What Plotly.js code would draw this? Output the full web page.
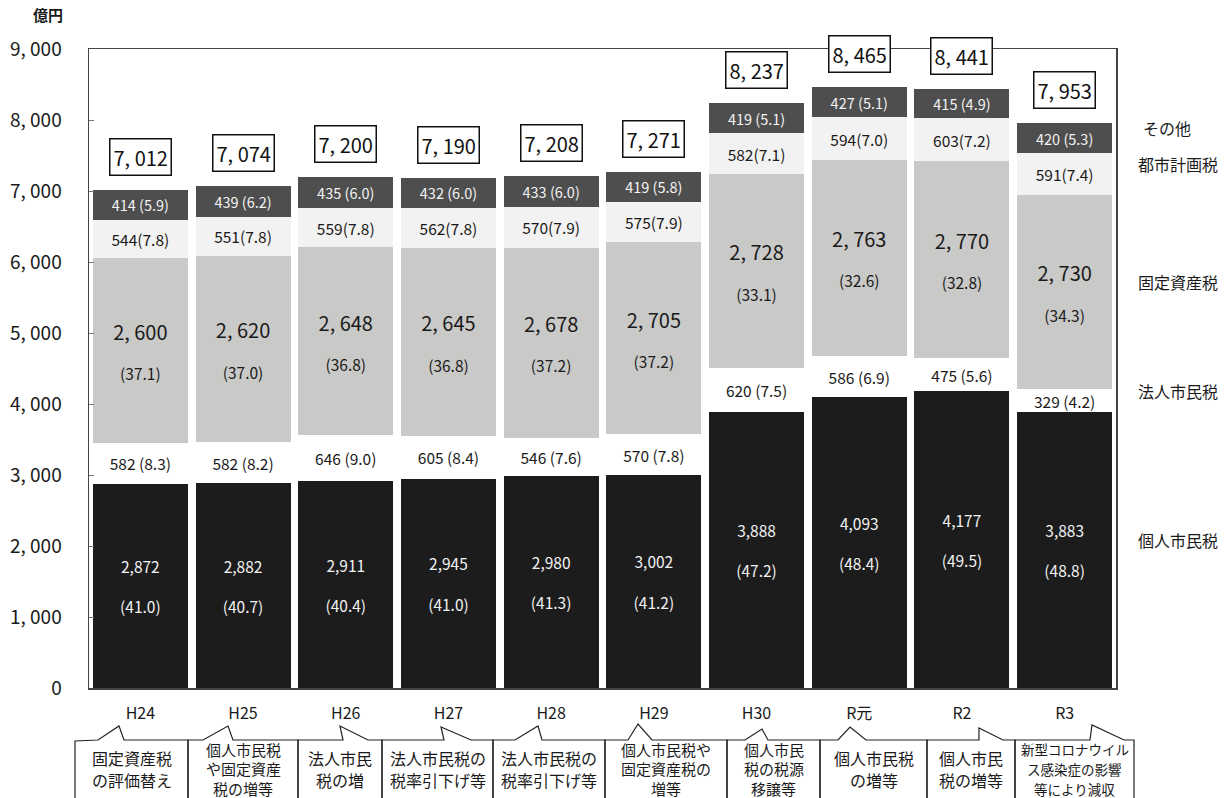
<!DOCTYPE html>
<html><head><meta charset="utf-8">
<script src="https://cdn.plot.ly/plotly-3.0.1.min.js"></script>
<style>html,body{margin:0;padding:0;background:#fff}</style>
</head><body><div id="chart" style="width:1232px;height:798px"></div>
<script>
// ---------- data ----------
const years = ['H24','H25','H26','H27','H28','H29','H30','R元','R2','R3'];
const seriesNames = ['個人市民税','法人市民税','固定資産税','都市計画税','その他'];
const kojin     = [2872,2882,2911,2945,2980,3002,3888,4093,4177,3883];
const kojinPct  = [41.0,40.7,40.4,41.0,41.3,41.2,47.2,48.4,49.5,48.8];
const hojin     = [582,582,646,605,546,570,620,586,475,329];
const hojinPct  = [8.3,8.2,9.0,8.4,7.6,7.8,7.5,6.9,5.6,4.2];
const kotei     = [2600,2620,2648,2645,2678,2705,2728,2763,2770,2730];
const koteiPct  = [37.1,37.0,36.8,36.8,37.2,37.2,33.1,32.6,32.8,34.3];
const toshi     = [544,551,559,562,570,575,582,594,603,591];
const toshiPct  = [7.8,7.8,7.8,7.8,7.9,7.9,7.1,7.0,7.2,7.4];
const sonota    = [414,439,435,432,433,419,419,427,415,420];
const sonotaPct = [5.9,6.2,6.0,6.0,6.0,5.8,5.1,5.1,4.9,5.3];
const totals    = [7012,7074,7200,7190,7208,7271,8237,8465,8441,7953];
const yTickVals = [0,1000,2000,3000,4000,5000,6000,7000,8000,9000];
const yTickText = ['0','1, 000','2, 000','3, 000','4, 000','5, 000','6, 000','7, 000','8, 000','9, 000'];
const unitLabel = '億円';
const notes = [
  ['固定資産税','の評価替え'],
  ['個人市民税','や固定資産','税の増等'],
  ['法人市民','税の増'],
  ['法人市民税の','税率引下げ等'],
  ['法人市民税の','税率引下げ等'],
  ['個人市民税や','固定資産税の','増等'],
  ['個人市民','税の税源','移譲等'],
  ['個人市民税','の増等'],
  ['個人市民','税の増等'],
  ['新型コロナウイル','ス感染症の影響','等により減収']
];

// ---------- helpers ----------
const FONT = '"Noto Sans CJK JP", "Noto Sans", sans-serif';
const W = 1232, H = 798, ML = 89, MR = 116, MT = 49, MB = 110;
const PW = W - ML - MR, PH = H - MT - MB;
const px = x => (x - ML) / PW;
const py = y => (H - MB - y) / PH;
const fmtSp = v => v.toLocaleString('en-US').replace(/,/g, ', ');
const fmt = v => v.toLocaleString('en-US');
const p1 = v => v.toFixed(1);

const common = {type:'bar', x: years, textposition:'inside', insidetextanchor:'middle',
  constraintext:'none', textangle:0, hoverinfo:'skip', cliponaxis:false};

const traces = [
  Object.assign({}, common, {name: seriesNames[0], y: kojin,
    marker:{color:'#1c1c1c', line:{width:0}},
    text: kojin.map((v,i)=>`${fmt(v)}<br><br>(${p1(kojinPct[i])})`),
    textfont:{family:FONT, size:15.5, color:'#f2f2f2'}}),
  Object.assign({}, common, {name: seriesNames[1], y: hojin,
    marker:{color:'#ffffff', line:{width:0}},
    text: hojin.map((v,i)=>`${v} (${p1(hojinPct[i])})`),
    textfont:{family:FONT, size:15.5, color:'#1a1a1a'}}),
  Object.assign({}, common, {name: seriesNames[2], y: kotei,
    marker:{color:'#c9c9c7', line:{width:0}},
    text: kotei.map((v,i)=>`<span style="font-size:20px">${fmtSp(v)}</span><br><br>(${p1(koteiPct[i])})`),
    textfont:{family:FONT, size:15.5, color:'#1a1a1a'}}),
  Object.assign({}, common, {name: seriesNames[3], y: toshi,
    marker:{color:'#f2f2f2', line:{width:0}},
    text: toshi.map((v,i)=>`${v}(${p1(toshiPct[i])})`),
    textfont:{family:FONT, size:15.5, color:'#1a1a1a'}}),
  Object.assign({}, common, {name: seriesNames[4], y: sonota,
    marker:{color:'#4e4e4e', line:{width:0}},
    text: sonota.map((v,i)=>`${v} (${p1(sonotaPct[i])})`),
    textfont:{family:FONT, size:14.5, color:'#f4f4f4'}})
];

const annotations = [];
// totals
years.forEach((yr,i)=>{
  annotations.push({x: yr, y: totals[i], xref:'x', yref:'y', yanchor:'bottom', yshift:14,
    text: fmtSp(totals[i]), showarrow:false, font:{family:FONT, size:20, color:'#111'},
    bordercolor:'#111', borderwidth:1.5, borderpad:3, bgcolor:'#fff'});
});
// right-side series labels at the last bar's segment midpoints
const stacks = [kojin, hojin, kotei, toshi, sonota];
const last = years.length - 1;
let cum = 0;
stacks.forEach((s,k)=>{
  const mid = cum + s[last]/2; cum += s[last];
  annotations.push({xref:'paper', yref:'y', x: px(k===4?1141:1136), y: mid, yshift: 10,
    xanchor:'left', yanchor:'middle', showarrow:false, text: seriesNames[k],
    font:{family:FONT, size:16, color:'#1a1a1a'}});
});
// unit
annotations.push({xref:'paper', yref:'paper', x: px(48), y: py(15), xanchor:'center', yanchor:'middle',
  showarrow:false, text: unitLabel, font:{family:FONT, size:15, color:'#1a1a1a', weight:700}});

// callout boxes (decoration) and their text
const boxes = [
  [[75,805],[75,741],[98,740],[119,726],[124,740],[188,740],[188,805]],
  [[188,805],[188,740],[203,740],[228,726],[233,740],[298,740],[298,805]],
  [[298,805],[298,740],[343,740],[340,726],[368,740],[382,740],[382,805]],
  [[382,805],[382,740],[444,740],[441,727],[471,740],[493,740],[493,805]],
  [[493,805],[493,740],[515,740],[538,726],[542,740],[605,740],[605,805]],
  [[605,805],[605,740],[628,740],[638,724],[652,740],[727,740],[727,805]],
  [[727,805],[727,740],[745,740],[762,729],[768,740],[820,740],[820,805]],
  [[820,805],[820,740],[838,740],[850,727],[866,740],[927,740],[927,805]],
  [[927,805],[927,740],[979,740],[979,728],[1003,740],[1015,740],[1015,805]],
  [[1015,805],[1015,740],[1090,740],[1092,725],[1124,740],[1134,740],[1134,805]]
];
const shapes = boxes.map(pts=>({type:'path', xref:'paper', yref:'paper',
  path: pts.map((p,j)=>(j?'L':'M')+px(p[0]).toFixed(5)+','+py(p[1]).toFixed(5)).join(' '),
  line:{color:'#222', width:1.2}, fillcolor:'rgba(0,0,0,0)'}));

notes.forEach((lines,i)=>{
  const b = boxes[i];
  const cx = (b[0][0] + b[b.length-1][0]) / 2;
  const three = lines.length === 3;
  const fs = i === 9 ? 13.5 : (three ? 15 : 16);
  const y0 = three ? 749 : 758;
  const step = three ? 19.8 : 21.5;
  lines.forEach((ln,j)=>{
    annotations.push({xref:'paper', yref:'paper', x: px(cx), y: py(y0 + j*step),
      xanchor:'center', yanchor:'middle', showarrow:false, text: ln, borderpad:0,
      font:{family:FONT, size:fs, color:'#1a1a1a'}});
  });
});

const layout = {
  width: W, height: H, barmode:'stack', bargap:0.075, showlegend:false,
  paper_bgcolor:'#fff', plot_bgcolor:'#fff',
  margin:{l:ML, r:MR, t:MT, b:MB, pad:0},
  font:{family:FONT, color:'#1a1a1a'},
  xaxis:{type:'category', showline:true, mirror:true, linecolor:'#444', linewidth:1.5,
    ticks:'', tickfont:{family:FONT, size:16, color:'#1a1a1a'}, ticklabelstandoff:10,
    showgrid:false, zeroline:false, fixedrange:true},
  yaxis:{range:[0,9000], tickvals:yTickVals, ticktext:yTickText, showline:true, mirror:true,
    linecolor:'#444', linewidth:1.5, ticks:'inside', ticklen:5, tickcolor:'#777',
    tickfont:{family:FONT, size:19, color:'#1a1a1a'}, ticklabelstandoff:22,
    showgrid:false, zeroline:false, fixedrange:true},
  annotations, shapes
};
Plotly.newPlot('chart', traces, layout, {staticPlot:true, displayModeBar:false});
</script></body></html>
